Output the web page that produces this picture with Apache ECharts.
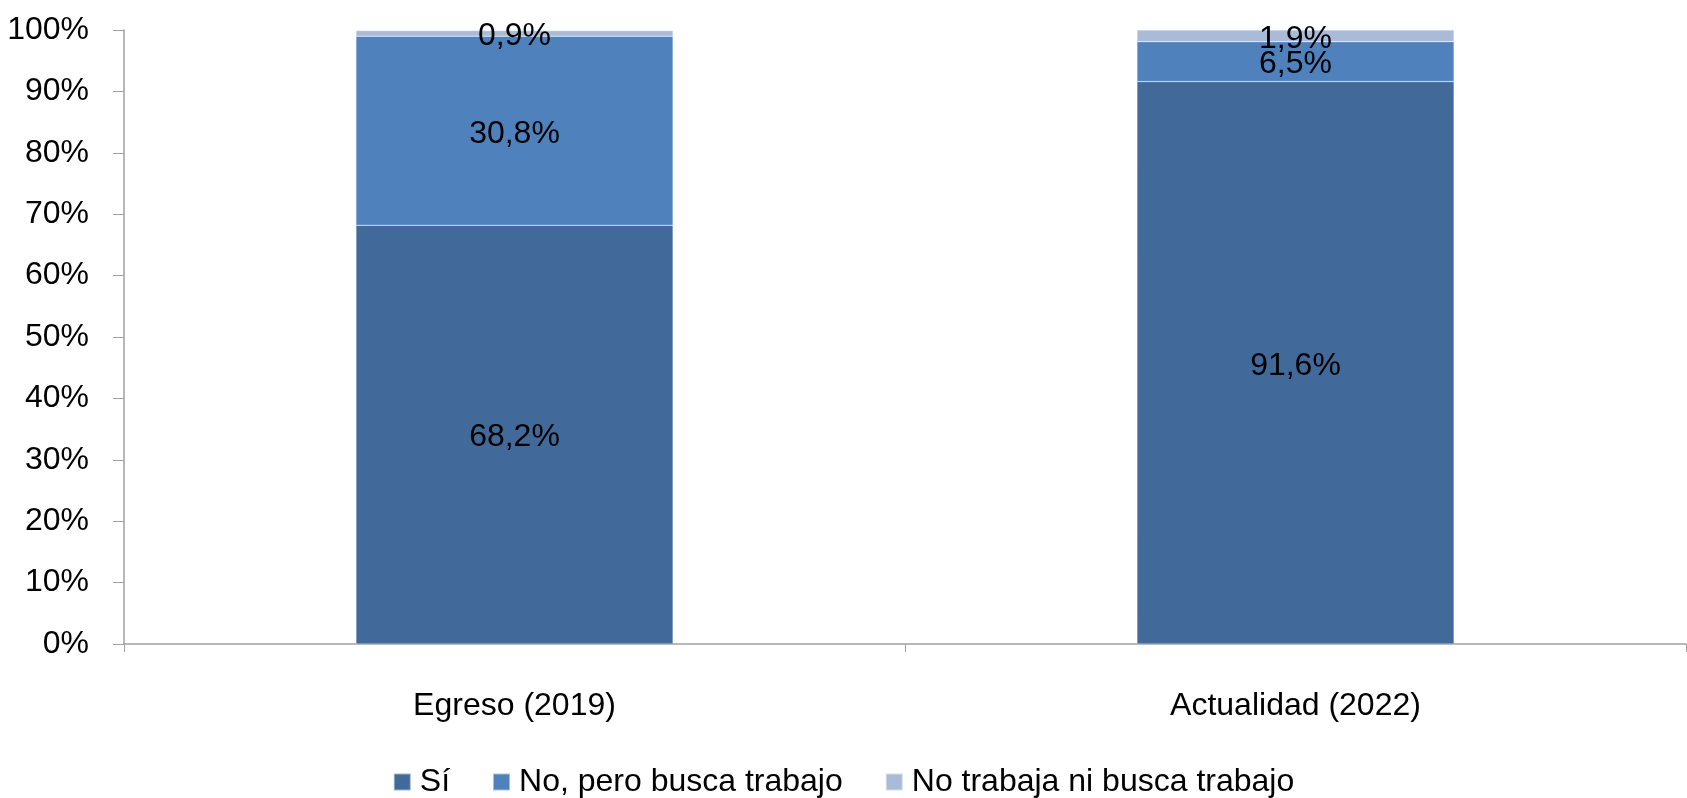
<!DOCTYPE html>
<html><head><meta charset="utf-8">
<script src="https://cdn.jsdelivr.net/npm/echarts@6/dist/echarts.min.js"></script>
<style>html,body{margin:0;padding:0;background:#fff}#c{width:1687px;height:798px}</style>
</head><body><div id="c"></div>
<script>
const categories = ['Egreso (2019)', 'Actualidad (2022)'];
const seriesNames = ['Sí', 'No, pero busca trabajo', 'No trabaja ni busca trabajo'];
const siValues = [68.2, 91.6];
const noBuscaValues = [30.8, 6.5];
const noTrabajaValues = [0.9, 1.9];
const colors = ['#416a9b', '#4f81bd', '#aabbd8'];
const FONT = '"Liberation Sans Narrow", "Arial Narrow", "Liberation Sans", sans-serif';
const FS = 32;
const fmt = p => p.value.toFixed(1).replace('.', ',') + '%';
const chart = echarts.init(document.getElementById('c'));
const mk = (name, data, color) => ({
  name, type: 'bar', stack: 't', data, barWidth: '40.6%',
  itemStyle: { color, borderColor: 'rgba(255,255,255,0.5)', borderWidth: 0.5 },
  label: { show: true, position: 'inside', formatter: fmt, color: '#000', fontFamily: FONT, fontSize: FS, offset: [0, 3] }
});
chart.setOption({
  animation: false,
  textStyle: { fontFamily: FONT },
  grid: { left: 124, right: 1, top: 30, bottom: 154, containLabel: false },
  legend: {
    bottom: -5, left: 'center', itemWidth: 17, itemHeight: 17, itemGap: 42, icon: 'rect',
    textStyle: { fontFamily: FONT, fontSize: FS, color: '#000', padding: [0, 0, 0, 4] },
    data: seriesNames
  },
  xAxis: {
    type: 'category', data: categories,
    axisLine: { lineStyle: { color: '#a0a0a0', width: 1.5 } },
    axisTick: { show: true, length: 8, lineStyle: { color: '#a0a0a0' } },
    axisLabel: { fontFamily: FONT, fontSize: FS, color: '#000', margin: 46 }
  },
  yAxis: {
    type: 'value', min: 0, max: 100, interval: 10,
    axisLine: { show: true, lineStyle: { color: '#a0a0a0', width: 1.5 } },
    axisTick: { show: true, length: 11, lineStyle: { color: '#a0a0a0' } },
    splitLine: { show: false },
    axisLabel: { formatter: '{value}%', fontFamily: FONT, fontSize: FS, color: '#000', margin: 35 }
  },
  series: [
    mk(seriesNames[0], siValues, colors[0]),
    mk(seriesNames[1], noBuscaValues, colors[1]),
    mk(seriesNames[2], noTrabajaValues, colors[2])
  ]
});
</script></body></html>
